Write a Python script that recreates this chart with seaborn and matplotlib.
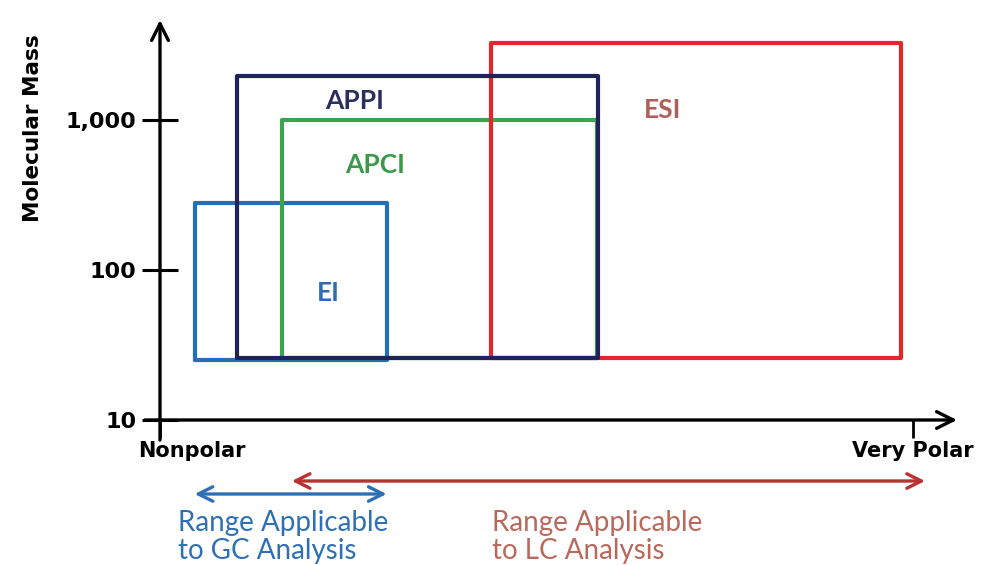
import numpy as np
import pandas as pd
import matplotlib
matplotlib.use('Agg')
import matplotlib.pyplot as plt
from matplotlib.ticker import NullLocator
import seaborn as sns

# ionisation methods: polarity range (0 = nonpolar, 1 = very polar) and mass range
methods = ['EI', 'APCI', 'ESI', 'APPI']
polarity_low = [0.046, 0.162, 0.440, 0.102]
polarity_high = [0.301, 0.580, 0.984, 0.582]
mass_low = [25, 26, 26, 26]
mass_high = [280, 1000, 3250, 1950]

y_ticks = [10, 100, 1000]
y_ticklabels = ['10', '100', '1,000']
x_ticks = [0, 1]
x_ticklabels = ['Nonpolar', 'Very Polar']

gc_range = [0.046, 0.301]
lc_range = [0.175, 1.016]

colors = {'EI': '#2270bd', 'APCI': '#3da34f', 'ESI': '#e2262b', 'APPI': '#1e2358'}
text_colors = {'EI': '#2f6db0', 'APCI': '#3a9a4a', 'ESI': '#ad6058', 'APPI': '#2a2f5e'}
label_pos = {'EI': (0.223, 70), 'APCI': (0.286, 500), 'ESI': (0.668, 1170), 'APPI': (0.259, 1340)}

# rectangle outlines as closed paths
rows = []
for m, x0, x1, y0, y1 in zip(methods, polarity_low, polarity_high, mass_low, mass_high):
    for px, py in [(x0, y0), (x1, y0), (x1, y1), (x0, y1), (x0, y0)]:
        rows.append({'method': m, 'polarity': px, 'mass': py})
rects = pd.DataFrame(rows)

sns.set_style('white')
plt.rcParams['font.family'] = ['Lato', 'DejaVu Sans']
axis_font = 'DejaVu Sans'

fig = plt.figure(figsize=(9.91, 5.65), dpi=100)
ax = fig.add_axes([160 / 991, 145 / 565, 797 / 991, 400 / 565])

sns.lineplot(data=rects, x='polarity', y='mass', hue='method', hue_order=methods,
             palette=colors, sort=False, estimator=None, legend=False, lw=3, ax=ax)

ax.set_yscale('log')
ax.set_ylim(10, 10 ** (1 + 400 / 150))
ax.set_xlim(0, 797 / 753)
ax.yaxis.set_minor_locator(NullLocator())
ax.xaxis.set_minor_locator(NullLocator())
ax.set_yticks(y_ticks)
ax.set_yticklabels(y_ticklabels, fontsize=16, fontweight='bold', family=axis_font)
ax.set_xticks(x_ticks)
ax.set_xticklabels(['', x_ticklabels[1]], fontsize=15, fontweight='bold', family=axis_font)
ax.tick_params(axis='y', left=True, direction='inout', length=26, width=2.2, pad=4,
               colors='black')
ax.tick_params(axis='x', bottom=True, direction='out', length=13, width=2.0, pad=2,
               colors='black')
ax.set_xlabel('')
ax.set_ylabel('Molecular Mass', fontsize=15.5, fontweight='bold', family=axis_font,
              color='black')
ax.yaxis.set_label_coords(-117 / 797, 0.73)
for s in ax.spines.values():
    s.set_visible(False)

# axes drawn as arrows
ax.annotate('', xy=(0, 1.0), xytext=(0, -0.05), xycoords='axes fraction',
            arrowprops=dict(arrowstyle='->', lw=2.4, color='black', mutation_scale=30,
                            shrinkA=0, shrinkB=0), annotation_clip=False)
ax.annotate('', xy=(1.0, 0), xytext=(-15 / 797, 0), xycoords='axes fraction',
            arrowprops=dict(arrowstyle='->', lw=2.4, color='black', mutation_scale=30,
                            shrinkA=0, shrinkB=0), annotation_clip=False)

ax.text(-22 / 797, -0.052, x_ticklabels[0], transform=ax.transAxes, ha='left', va='top',
        fontsize=15, fontweight='bold', family=axis_font, color='black')

for m in methods:
    px, py = label_pos[m]
    ax.text(px, py, m, color=text_colors[m], fontsize=19, fontweight='bold',
            ha='center', va='center')

# applicable ranges below the axis
xt = ax.get_xaxis_transform()
ax.annotate('', xy=(gc_range[1], -0.185), xytext=(gc_range[0], -0.185), xycoords=xt,
            arrowprops=dict(arrowstyle='<->', lw=2.4, color='#2f70b5', mutation_scale=26,
                            shrinkA=0, shrinkB=0), annotation_clip=False)
ax.annotate('', xy=(lc_range[1], -0.1525), xytext=(lc_range[0], -0.1525), xycoords=xt,
            arrowprops=dict(arrowstyle='<->', lw=2.4, color='#b83232', mutation_scale=26,
                            shrinkA=0, shrinkB=0), annotation_clip=False)
ax.text(0.024, -0.225, 'Range Applicable\nto GC Analysis', transform=xt, ha='left', va='top',
        fontsize=20, color='#2f70b5', linespacing=1.1)
ax.text(0.441, -0.225, 'Range Applicable\nto LC Analysis', transform=xt, ha='left', va='top',
        fontsize=20, color='#b9695c', linespacing=1.1)

fig.savefig('out.png', dpi=100)
